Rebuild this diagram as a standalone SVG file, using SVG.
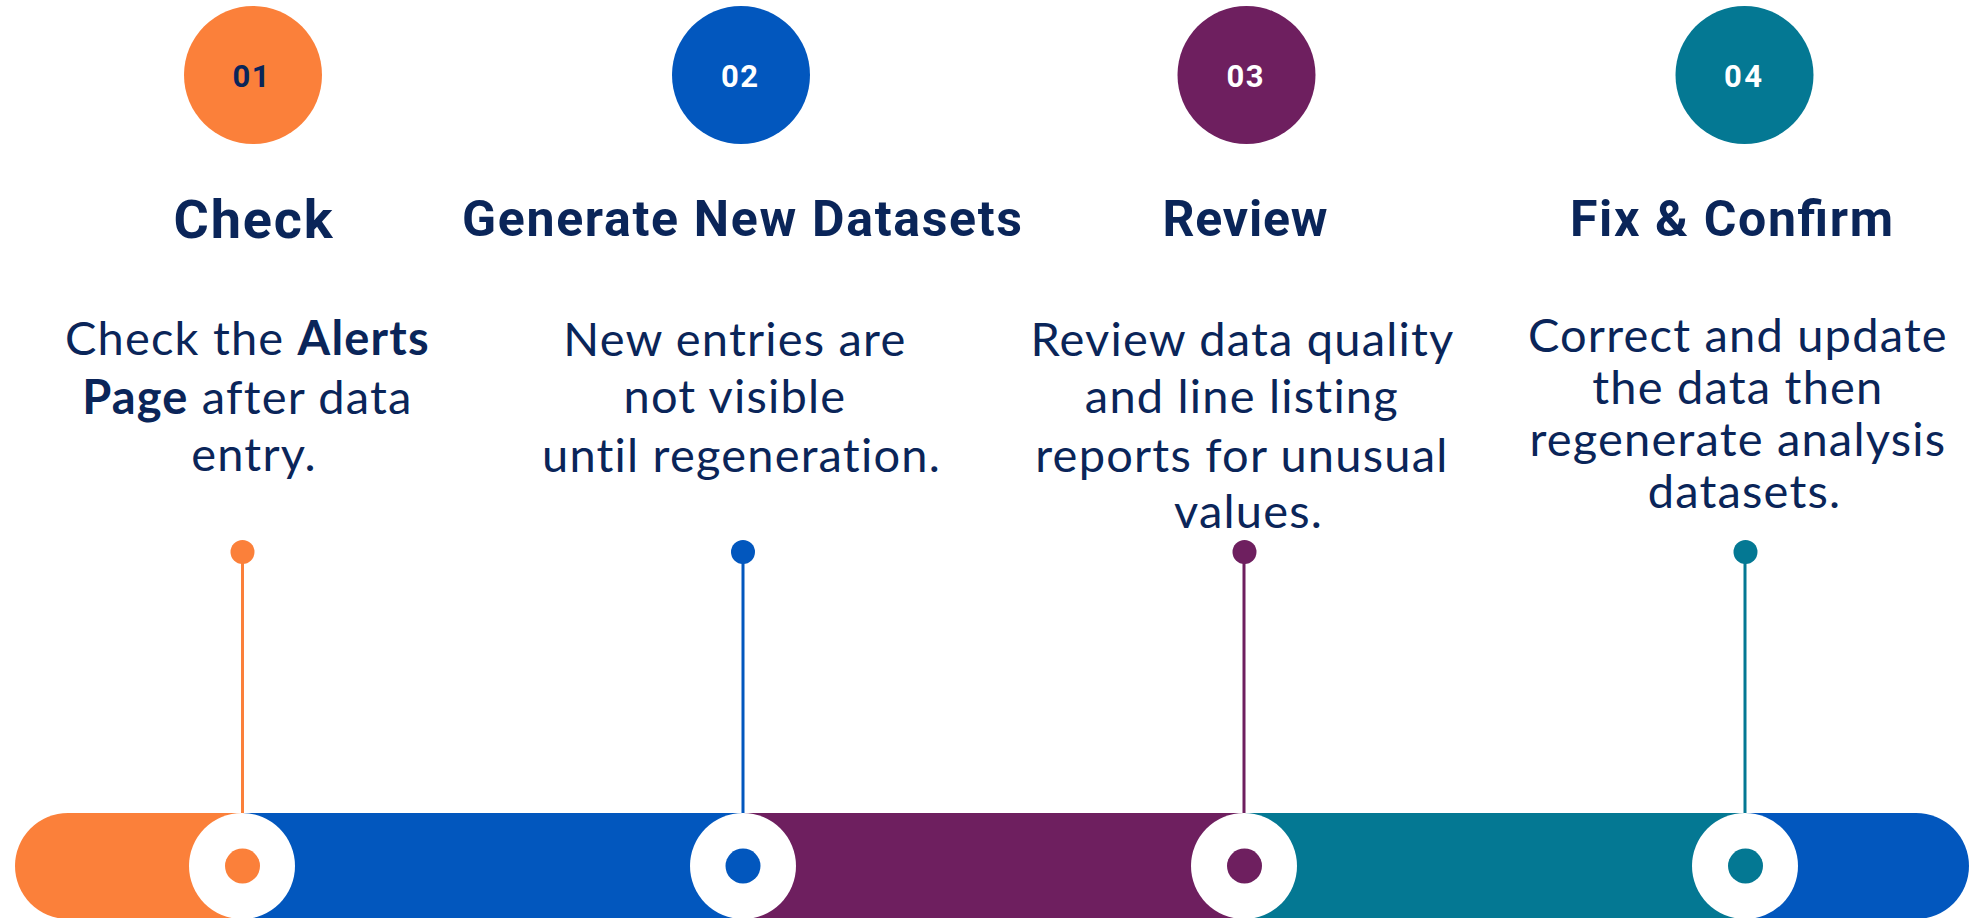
<svg xmlns="http://www.w3.org/2000/svg" width="1969" height="918" viewBox="0 0 1969 918">
  <style>
    .num { font-family: Roboto, "Liberation Sans", sans-serif; font-weight: 700; font-size: 31px; text-anchor: middle; }
    .head { font-family: Roboto, "Liberation Sans", sans-serif; font-weight: 700; fill: #0A2559; text-anchor: middle; }
    .body { font-family: Lato, "Liberation Sans", sans-serif; font-size: 47px; letter-spacing: 1.2px; fill: #0A2559; text-anchor: middle; }
    .b { font-weight: 700; }
    .orange { fill: #FB803A; }
    .blue { fill: #0257BE; }
    .purple { fill: #6E1F5F; }
    .teal { fill: #047893; }
  </style>
  <defs>
    <clipPath id="barClip">
      <rect x="15" y="813" width="1954" height="106" rx="53" ry="53"/>
    </clipPath>
  </defs>
  <rect width="1969" height="918" fill="#FFFFFF"/>

  <!-- timeline bar -->
  <g id="timeline-bar" clip-path="url(#barClip)">
    <rect class="orange" x="15" y="813" width="227" height="106"/>
    <rect class="blue" x="242" y="813" width="501" height="106"/>
    <rect class="purple" x="743" y="813" width="501" height="106"/>
    <rect class="teal" x="1244" y="813" width="501" height="106"/>
    <rect class="blue" x="1745" y="813" width="224" height="106"/>
  </g>

  <!-- connectors: step markers down to the bar -->
  <g id="connectors" stroke-width="3">
    <line x1="242.5" y1="552" x2="242.5" y2="866" stroke="#FB803A"/>
    <line x1="743" y1="552" x2="743" y2="866" stroke="#0257BE"/>
    <line x1="1244" y1="552" x2="1244" y2="866" stroke="#6E1F5F"/>
    <line x1="1745" y1="552" x2="1745" y2="866" stroke="#047893"/>
  </g>

  <!-- step 1 -->
  <g id="step-01">
    <circle class="orange" cx="253" cy="75" r="69"/>
    <text class="num" x="251" y="86.5" fill="#0A2559" textLength="37" lengthAdjust="spacing">01</text>
    <text class="head" x="253" y="238" font-size="54" textLength="159" lengthAdjust="spacing">Check</text>
    <text class="body">
      <tspan x="254" y="355">Check the <tspan class="b">Alerts</tspan></tspan>
      <tspan x="254" y="414"><tspan class="b">Page</tspan> after data</tspan>
      <tspan x="254" y="471">entry.</tspan>
    </text>
    <circle class="orange" cx="242.5" cy="552" r="12"/>
    <circle cx="242" cy="866" r="53" fill="#FFFFFF"/>
    <circle class="orange" cx="242.5" cy="866" r="17.5"/>
  </g>

  <!-- step 2 -->
  <g id="step-02">
    <circle class="blue" cx="741" cy="75" r="69"/>
    <text class="num" x="739.5" y="86.5" fill="#FFFFFF" textLength="37" lengthAdjust="spacing">02</text>
    <text class="head" x="742" y="236" font-size="50" textLength="560" lengthAdjust="spacing">Generate New Datasets</text>
    <text class="body">
      <tspan x="741.5" y="356">New entries are</tspan>
      <tspan x="741.5" y="413">not visible</tspan>
      <tspan x="741.5" y="472">until regeneration.</tspan>
    </text>
    <circle class="blue" cx="743" cy="552" r="12"/>
    <circle cx="743" cy="866" r="53" fill="#FFFFFF"/>
    <circle class="blue" cx="743" cy="866" r="17.5"/>
  </g>

  <!-- step 3 -->
  <g id="step-03">
    <circle class="purple" cx="1246.5" cy="75" r="69"/>
    <text class="num" x="1245" y="86.5" fill="#FFFFFF" textLength="37" lengthAdjust="spacing">03</text>
    <text class="head" x="1245" y="236" font-size="50" textLength="165" lengthAdjust="spacing">Review</text>
    <text class="body">
      <tspan x="1248.5" y="356">Review data quality</tspan>
      <tspan x="1248.5" y="413">and line listing</tspan>
      <tspan x="1248.5" y="472">reports for unusual</tspan>
      <tspan x="1248.5" y="528">values.</tspan>
    </text>
    <circle class="purple" cx="1244.5" cy="552" r="12"/>
    <circle cx="1244" cy="866" r="53" fill="#FFFFFF"/>
    <circle class="purple" cx="1244.5" cy="866" r="17.5"/>
  </g>

  <!-- step 4 -->
  <g id="step-04">
    <circle class="teal" cx="1744.5" cy="75" r="69"/>
    <text class="num" x="1743" y="86.5" fill="#FFFFFF" textLength="38" lengthAdjust="spacing">04</text>
    <text class="head" x="1731.5" y="236" font-size="50" textLength="323" lengthAdjust="spacing">Fix &amp; Confirm</text>
    <text class="body">
      <tspan x="1744.5" y="352">Correct and update</tspan>
      <tspan x="1744.5" y="403.5">the data then</tspan>
      <tspan x="1744.5" y="456">regenerate analysis</tspan>
      <tspan x="1744.5" y="508">datasets.</tspan>
    </text>
    <circle class="teal" cx="1745.5" cy="552" r="12"/>
    <circle cx="1745" cy="866" r="53" fill="#FFFFFF"/>
    <circle class="teal" cx="1745.5" cy="866" r="17.5"/>
  </g>
</svg>
